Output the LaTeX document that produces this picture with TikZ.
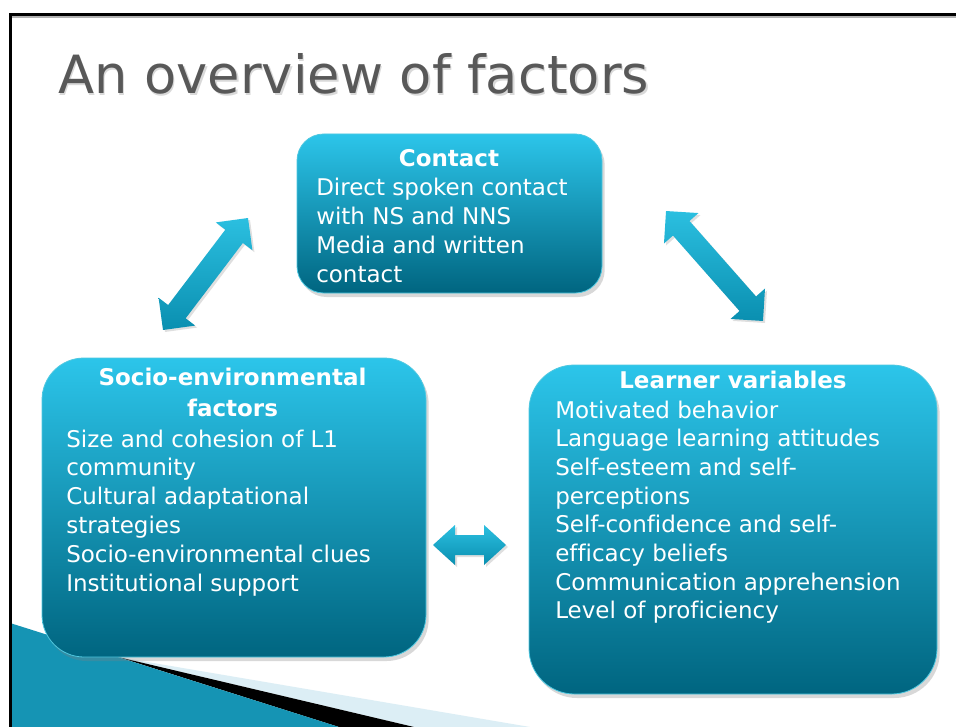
\documentclass[tikz,border=0pt]{standalone}
\usepackage{fontspec}
\setmainfont{DejaVu Sans}[Ligatures=CommonOff]
\usetikzlibrary{shadows}
\definecolor{boxtop}{HTML}{2CC5EA}
\definecolor{boxmid}{HTML}{009DC0}
\definecolor{boxbot}{HTML}{006580}
\definecolor{boxedge}{HTML}{4FC8E0}
\definecolor{arrowA}{HTML}{2BBFE0}
\definecolor{arrowB}{HTML}{0A8FB0}
\definecolor{titlegray}{HTML}{585858}
\definecolor{tealA}{HTML}{1594B4}
\definecolor{tealB}{HTML}{66C6E0}
\definecolor{paleblue}{HTML}{DCEEF5}
\tikzset{
  panel/.style={rounded corners=#1, top color=boxtop, middle color=boxmid, bottom color=boxbot,
    draw=boxedge, line width=0.6pt, inner sep=0pt,
    drop shadow={shadow xshift=2pt, shadow yshift=-3pt, opacity=0.3}},
  btxt/.style={text=white, font=\fontsize{17.25pt}{20pt}\selectfont, inner sep=0pt, anchor=base west},
  bttl/.style={text=white, font=\fontsize{17.25pt}{20pt}\selectfont\bfseries, inner sep=0pt, anchor=base},
  arrowshade/.style={top color=arrowA, bottom color=arrowB,
    drop shadow={shadow xshift=1.5pt, shadow yshift=-1.5pt, opacity=0.25}},
  titletxt/.style={font=\fontsize{39.5pt}{45pt}\selectfont, inner sep=0pt, anchor=base west}
}
\newcommand\blockarrow[6]{%
  \begin{scope}[shift={(#1)},rotate=#2]
    \path[arrowshade] (-#3,0) -- ({-#3+#4},#5) -- ({-#3+#4},#6) -- ({#3-#4},#6) -- ({#3-#4},#5)
      -- (#3,0) -- ({#3-#4},-#5) -- ({#3-#4},-#6) -- ({-#3+#4},-#6) -- ({-#3+#4},-#5) -- cycle;
  \end{scope}}
\begin{document}
\begin{tikzpicture}[x=0.75pt,y=-0.75pt]
\useasboundingbox (0,0) rectangle (956,727);
\fill[white] (0,0) rectangle (956,727);
% bottom-left decoration
\fill[paleblue] (118,657) -- (414,727) -- (530,727) -- cycle;
\fill[black] (118,657) -- (339,727) -- (414,727) -- cycle;
\shade[left color=tealA, middle color=tealB, right color=tealA] (10,623) -- (339,727) -- (10,727) -- cycle;
% frame
\draw[gray!60, line width=0.8pt] (12,17) -- (956,17);
\draw[line width=1.9pt, black] (10.5,727) -- (10.5,14.5) -- (956,14.5);
% title
\node[titletxt, text=black!15] (titleshadow) at (59.5,96) {An overview of factors};
\node[titletxt, text=titlegray] (title) at (58,94) {An overview of factors};
% boxes
\node[panel=20pt, minimum width=228.75pt, minimum height=119.25pt] (contact) at (449.5,213.5) {};
\node[panel=31.5pt, minimum width=288pt, minimum height=224.25pt] (socio) at (234,507.5) {};
\node[panel=34pt, minimum width=306pt, minimum height=246.75pt] (learner) at (733,529.5) {};
% arrows
\coordinate (arrL) at (205.5,274);
\coordinate (arrR) at (714.5,266);
\coordinate (arrH) at (469.5,545);
\blockarrow{arrL}{52.8}{70.3}{23}{23}{11}
\blockarrow{arrR}{-48.6}{73.3}{23}{23}{11}
\blockarrow{arrH}{0}{36.5}{22}{20}{10}
% contact text
\node[bttl] (contactT) at (449,167) {Contact};
\foreach \t [count=\i from 0] in {Direct spoken contact, with NS and NNS, Media and written, contact}
  \node[btxt] (contact\i) at (316,{196+\i*28.7}) {\t};
% socio text
\node[bttl] (socioT1) at (232.5,385) {Socio-environmental};
\node[bttl] (socioT2) at (232.5,416) {factors};
\foreach \t [count=\i from 0] in {Size and cohesion of L1, community, Cultural adaptational, strategies, Socio-environmental clues, Institutional support}
  \node[btxt] (socio\i) at (66,{447+\i*28.8}) {\t};
% learner text
\node[bttl] (learnerT) at (733,388) {Learner variables};
\foreach \t [count=\i from 0] in {Motivated behavior, Language learning attitudes, Self-esteem and self-, perceptions, Self-confidence and self-, efficacy beliefs, Communication apprehension, Level of proficiency}
  \node[btxt] (learner\i) at (555,{418+\i*28.7}) {\t};
\end{tikzpicture}
\end{document}
